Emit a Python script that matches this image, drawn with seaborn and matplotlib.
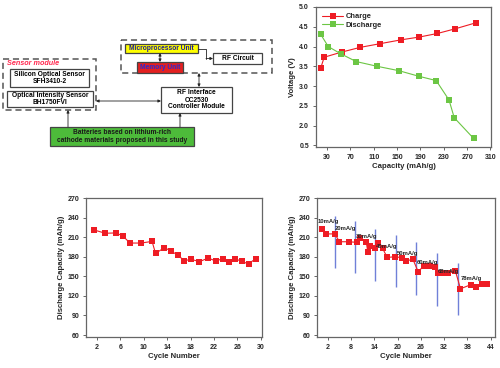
import matplotlib
matplotlib.use("Agg")
import matplotlib.pyplot as plt
import seaborn as sns
from matplotlib.patches import Rectangle

# -------------------------------
# Data
# -------------------------------
charge_capacity = [19, 25, 55, 87, 120, 157, 188, 219, 250, 285]
charge_voltage = [3.45, 3.73, 3.86, 3.98, 4.07, 4.17, 4.24, 4.33, 4.45, 4.60]
discharge_capacity = [19, 32, 53, 80, 116, 153, 187, 217, 239, 248, 281]
discharge_voltage = [4.31, 4.00, 3.82, 3.62, 3.50, 3.39, 3.25, 3.14, 2.65, 2.20, 1.68]
capacity_ticks = [30, 70, 110, 150, 190, 230, 270, 310]
voltage_ticks = [1.5, 2.0, 2.5, 3.0, 3.5, 4.0, 4.5, 5.0]
voltage_tick_labels = ["0.5", "2.0", "2.5", "3.0", "3.5", "4.0", "4.5", "5.0"]

cycle_number = [1.5, 3.4, 5.2, 6.4, 7.6, 9.5, 11.4, 12.0, 13.5, 14.6, 15.8,
                16.9, 18.1, 19.5, 21.0, 22.3, 23.5, 24.6, 25.6, 26.7, 27.9, 29.1]
cycle_capacity = [221, 216, 216.5, 212, 201, 201, 203.5, 185, 194, 189, 182.5,
                  174, 176, 172.5, 178, 173.5, 177, 172.5, 177, 173, 169, 177]
cycle_ticks = [2, 6, 10, 14, 18, 22, 26, 30]

rate_cycle = [0.4, 1.6, 3.8, 5.0, 7.4, 9.6, 10.4, 11.9, 12.3, 12.9, 14.1, 14.9,
              16.1, 17.3, 19.4, 21.1, 22.1, 23.9, 25.3, 26.7, 28.4, 29.7, 30.4,
              31.7, 33.1, 34.9, 36.2, 38.8, 40.3, 41.8, 43.1]
rate_capacity = [223, 215, 215, 203, 203, 202, 209, 203, 187, 197, 194, 201,
                 193, 179, 180, 178.5, 173, 176.5, 157, 166, 165.5, 164.5, 155,
                 155, 155, 158, 131, 137, 133, 138, 139]
rate_ticks = [2, 8, 14, 20, 26, 32, 38, 44]
boundary_cycle = [3.9, 8.9, 14.1, 19.6, 24.6, 30.2, 35.5]
boundary_top = [242, 235, 222, 214, 202, 185, 170]
boundary_bottom = [162, 155, 143, 134, 122, 105, 90]
rate_labels = ["10mA/g", "20mA/g", "30mA/g", "40mA/g", "50mA/g", "60mA/g", "68mA/g", "78mA/g"]
rate_label_x = [-0.6, 3.9, 9.1, 14.4, 19.7, 25.0, 30.4, 36.2]
rate_label_y = [234, 224, 211.5, 195, 185, 171.5, 157, 146]
capacity_yticks = [60, 90, 120, 150, 180, 210, 240, 270]

RED = "#ee1c24"
GREEN = "#6cc644"
BLUE = "#7080d8"
SPINE = "#666666"
FS_TICK = 5.0
FS_LABEL = 5.6
MS = 4.2


def style_axes(ax):
    for s in ax.spines.values():
        s.set_color(SPINE)
        s.set_linewidth(0.9)
    ax.tick_params(axis="both", direction="out", length=2, width=0.7,
                   color=SPINE, labelsize=FS_TICK, pad=3)
    for lab in ax.get_xticklabels() + ax.get_yticklabels():
        lab.set_fontweight("bold")


sns.set_style("ticks")
plt.rcParams["font.family"] = ["Liberation Sans", "DejaVu Sans"]

fig = plt.figure(figsize=(5, 3.68), dpi=100)

# -------------------------------
# Block diagram (pixel coordinates)
# -------------------------------
diag = fig.add_axes([0, 0, 1, 1])
diag.set_xlim(0, 500)
diag.set_ylim(368, 0)
diag.axis("off")

dash = (0, (4, 2.5))
diag.add_patch(Rectangle((3, 59), 93, 51, fill=False, ec="#555555", lw=1.1, ls=dash))
diag.add_patch(Rectangle((121, 40), 151, 33, fill=False, ec="#555555", lw=1.1, ls=dash))
diag.text(7, 63.5, "Sensor module", color="#ff2a50", fontsize=5.2,
          fontweight="bold", style="italic", va="center")

boxes = [
    (10, 69, 79, 18, "white", "black", "Silicon Optical Sensor\nSFH3410-2"),
    (7, 91, 86, 16, "white", "black", "Optical Intensity Sensor\nBH1750FVI"),
    (125, 44, 73, 9, "#ffff00", "#1a1aa0", "Microprocessor Unit"),
    (137, 62, 46, 11, "#e32020", "#2a2ad0", "Memory Unit"),
    (213, 53, 49, 11, "white", "black", "RF Circuit"),
    (161, 87, 71, 26, "white", "black", "RF Interface\nCC2530\nController Module"),
    (50, 127, 144, 19, "#4dbb3a", "#1a1a1a", "Batteries based on lithium-rich\ncathode materials proposed in this study"),
]
for x, y, w, h, fc, tc, txt in boxes:
    diag.add_patch(Rectangle((x, y), w, h, fc=fc, ec="#444444", lw=0.9))
    diag.text(x + w / 2, y + h / 2, txt, ha="center", va="center",
              fontsize=4.75, fontweight="bold", color=tc, linespacing=1.0)

arrow_kw = dict(lw=0.6, color="#222222", shrinkA=0, shrinkB=0, mutation_scale=4)
diag.annotate("", xy=(160, 62), xytext=(160, 53), arrowprops=dict(arrowstyle="<|-|>", **arrow_kw))
diag.plot([198, 206, 206], [48.5, 48.5, 58.5], color="#222222", lw=0.6)
diag.annotate("", xy=(213, 58.5), xytext=(206, 58.5), arrowprops=dict(arrowstyle="-|>", **arrow_kw))
diag.annotate("", xy=(199, 87), xytext=(199, 73), arrowprops=dict(arrowstyle="<|-|>", **arrow_kw))
diag.annotate("", xy=(161, 101), xytext=(96, 101), arrowprops=dict(arrowstyle="<|-|>", **arrow_kw))
diag.annotate("", xy=(68, 110), xytext=(68, 127), arrowprops=dict(arrowstyle="-|>", **arrow_kw))
diag.annotate("", xy=(180, 113), xytext=(180, 127), arrowprops=dict(arrowstyle="-|>", **arrow_kw))

# -------------------------------
# Charge / discharge curves
# -------------------------------
ax1 = fig.add_axes([0.632, 0.6005, 0.35, 0.3805])
sns.lineplot(x=charge_capacity, y=charge_voltage, ax=ax1, color=RED, lw=0.8,
             marker="s", markersize=MS, markeredgewidth=0, label="Charge")
sns.lineplot(x=discharge_capacity, y=discharge_voltage, ax=ax1, color=GREEN, lw=0.8,
             marker="s", markersize=MS, markeredgewidth=0, label="Discharge", sort=False)
ax1.set_xlim(11, 311)
ax1.set_ylim(1.46, 5.0)
ax1.set_xticks(capacity_ticks)
ax1.set_yticks(voltage_ticks)
ax1.set_yticklabels(voltage_tick_labels)
ax1.set_xlabel("Capacity (mAh/g)", fontsize=FS_LABEL, fontweight="bold", labelpad=1.5)
ax1.set_ylabel("Voltage (V)", fontsize=FS_LABEL, fontweight="bold", labelpad=2)
leg = ax1.legend(loc="upper left", frameon=False, fontsize=5.4, handlelength=2.8,
                 borderaxespad=0.4, labelspacing=0.2, handletextpad=0.4)
for t in leg.get_texts():
    t.set_fontweight("bold")
style_axes(ax1)

# -------------------------------
# Cycle performance
# -------------------------------
ax2 = fig.add_axes([0.172, 0.0842, 0.352, 0.3777])
sns.lineplot(x=cycle_number, y=cycle_capacity, ax=ax2, color=RED, lw=0.8, sort=False,
             marker="s", markersize=MS, markeredgewidth=0)
ax2.set_xlim(0.1, 30.2)
ax2.set_ylim(57, 270)
ax2.set_xticks(cycle_ticks)
ax2.set_yticks(capacity_yticks)
ax2.set_xlabel("Cycle Number", fontsize=FS_LABEL, fontweight="bold", labelpad=1.5)
ax2.set_ylabel("Discharge Capacity (mAh/g)", fontsize=FS_LABEL, fontweight="bold", labelpad=2)
style_axes(ax2)

# -------------------------------
# Rate capability
# -------------------------------
ax3 = fig.add_axes([0.634, 0.0842, 0.356, 0.3777])
ax3.vlines(boundary_cycle, boundary_bottom, boundary_top, color=BLUE, lw=1.0, zorder=1)
sns.lineplot(x=rate_cycle, y=rate_capacity, ax=ax3, color=RED, lw=0.8, sort=False,
             marker="s", markersize=MS, markeredgewidth=0, zorder=2)
for lx, ly, txt in zip(rate_label_x, rate_label_y, rate_labels):
    ax3.text(lx, ly, txt, fontsize=4.2, fontweight="bold", ha="left", va="center", zorder=3)
ax3.set_xlim(-0.8, 45.1)
ax3.set_ylim(57, 270)
ax3.set_xticks(rate_ticks)
ax3.set_yticks(capacity_yticks)
ax3.set_xlabel("Cycle Number", fontsize=FS_LABEL, fontweight="bold", labelpad=1.5)
ax3.set_ylabel("Discharge Capacity (mAh/g)", fontsize=FS_LABEL, fontweight="bold", labelpad=2)
style_axes(ax3)

fig.savefig("out.png", dpi=100)
